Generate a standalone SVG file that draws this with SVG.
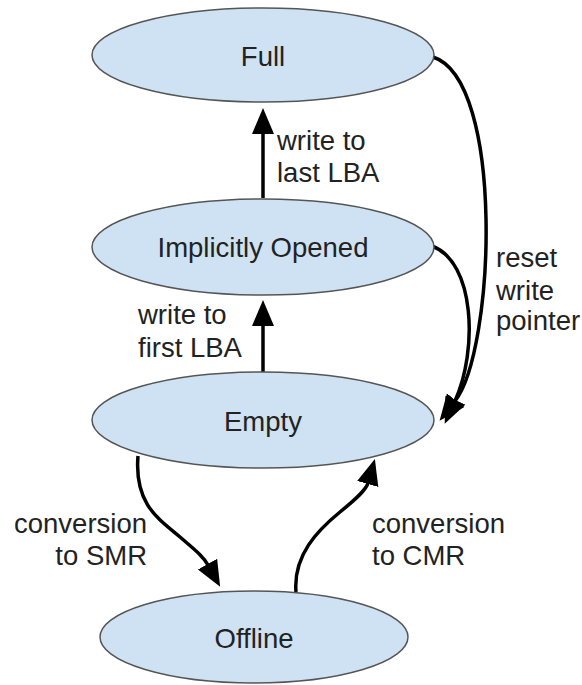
<svg xmlns="http://www.w3.org/2000/svg" width="582" height="685" viewBox="0 0 582 685">
<style>
.node ellipse{fill:#cfe2f3;stroke:#555;stroke-width:1.5}
text{font-family:"Liberation Sans",Arial,sans-serif;font-size:27.5px;fill:#222}
.c{text-anchor:middle}
.e{text-anchor:end}
.edge{fill:none;stroke:#000;stroke-width:3.5}
</style>
<defs>
<marker id="ah" markerUnits="userSpaceOnUse" markerWidth="30" markerHeight="24" refX="1" refY="11" orient="auto" viewBox="0 0 30 24">
<path d="M0,0 L26,11 L0,22 z" fill="#000"/>
</marker>
</defs>
<rect width="582" height="685" fill="#fff"/>
<g id="connectors">
<path class="edge" d="M263,198 L263,133" marker-end="url(#ah)"/>
<path class="edge" d="M263,372 L263,325" marker-end="url(#ah)"/>
<path class="edge" d="M433,57 C505,80 495,350 455,401" marker-end="url(#ah)"/>
<path class="edge" d="M432,246 C475,262 478,350 455,401" marker-end="url(#ah)"/>
<path class="edge" d="M138,456 C134,505 160,520 180,537 C195,550 203,556 208,565" marker-end="url(#ah)"/>
<path class="edge" d="M296,592 C293,555 318,530 340,512 C356,499 366,490 368,483" marker-end="url(#ah)"/>
</g>
<g id="node-full" class="node">
<ellipse cx="263" cy="55" rx="171" ry="47"/>
<text class="c" x="263" y="66">Full</text>
</g>
<g id="node-implicitly-opened" class="node">
<ellipse cx="263" cy="247" rx="171" ry="48"/>
<text class="c" x="263" y="257">Implicitly Opened</text>
</g>
<g id="node-empty" class="node">
<ellipse cx="263" cy="420" rx="171" ry="48"/>
<text class="c" x="263" y="431">Empty</text>
</g>
<g id="node-offline" class="node">
<ellipse cx="254" cy="637" rx="154" ry="46"/>
<text class="c" x="254" y="648">Offline</text>
</g>
<g id="labels">
<text x="277" y="150">write to</text>
<text x="277" y="182">last LBA</text>
<text x="138" y="324">write to</text>
<text x="138" y="357">first LBA</text>
<text x="496" y="267">reset</text>
<text x="496" y="300">write</text>
<text x="496" y="330">pointer</text>
<text class="e" x="147" y="533">conversion</text>
<text class="e" x="147" y="565">to SMR</text>
<text x="372" y="533">conversion</text>
<text x="372" y="565">to CMR</text>
</g>
</svg>
